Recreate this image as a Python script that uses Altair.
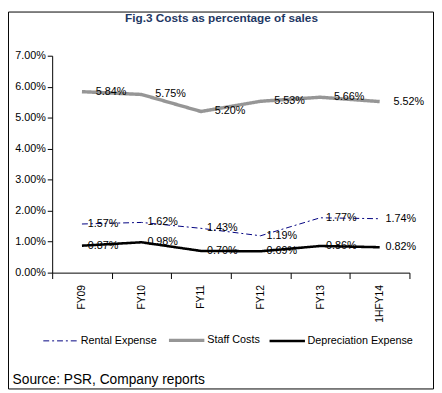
import altair as alt
import pandas as pd

categories = ["FY09", "FY10", "FY11", "FY12", "FY13", "1HFY14"]
series_names = ["Rental Expense", "Staff Costs", "Depreciation Expense"]
rental = [1.57, 1.62, 1.43, 1.19, 1.77, 1.74]
staff = [5.84, 5.75, 5.20, 5.53, 5.66, 5.52]
depreciation = [0.87, 0.98, 0.70, 0.69, 0.86, 0.82]
y_ticks = [0, 0.01, 0.02, 0.03, 0.04, 0.05, 0.06, 0.07]

rows = []
for name, vals in zip(series_names, [rental, staff, depreciation]):
    for c, v in zip(categories, vals):
        rows.append({"period": c, "series": name, "value": v / 100.0})
df = pd.DataFrame(rows)

W, H = 364, 221
FONT = "Arial"

x_enc = alt.X(
    "period:N",
    sort=categories,
    bandPosition=0.5,
    scale=alt.Scale(type="band", paddingInner=0, paddingOuter=0),
    axis=alt.Axis(
        title=None, tickBand="extent", tickSize=6, labelAngle=270,
        labelPadding=6, labelFont=FONT, labelFontSize=10.5, labelColor="black",
        domainColor="black", tickColor="black", grid=False,
    ),
)
y_enc = alt.Y(
    "value:Q",
    scale=alt.Scale(domain=[0, 0.07], nice=False),
    axis=alt.Axis(
        title=None, values=y_ticks, format=".2%", tickSize=5, labelPadding=2,
        labelFont=FONT, labelFontSize=11, labelColor="black",
        domainColor="black", tickColor="black", grid=False,
    ),
)

base = alt.Chart(df)

lines = base.mark_line(interpolate="linear").encode(
    x=x_enc,
    y=y_enc,
    color=alt.Color("series:N", title=None,
                    scale=alt.Scale(domain=series_names, range=["#000080", "#969696", "#000000"])),
    strokeDash=alt.StrokeDash("series:N", title=None,
                              scale=alt.Scale(domain=series_names, range=[[6, 3, 2, 3], [1, 0], [1, 0]])),
    strokeWidth=alt.StrokeWidth("series:N", title=None,
                                scale=alt.Scale(type="ordinal", domain=series_names, range=[1, 3.5, 2.6])),
)

labels_staff = base.transform_filter(alt.datum.series == "Staff Costs").mark_text(
    align="left", baseline="middle", dx=14, font=FONT, fontSize=11, color="black"
).encode(x=x_enc, y=y_enc, text=alt.Text("value:Q", format=".2%"))

labels_other = base.transform_filter(alt.datum.series != "Staff Costs").mark_text(
    align="left", baseline="middle", dx=6, font=FONT, fontSize=11, color="black"
).encode(x=x_enc, y=y_enc, text=alt.Text("value:Q", format=".2%"))

one = alt.Data(values=[{"t": "Fig.3 Costs as percentage of sales", "s": "Source: PSR, Company reports"}])

title = alt.Chart(one).mark_text(
    align="center", baseline="alphabetic", font=FONT, fontSize=12, fontWeight="bold", color="#1F3864"
).encode(x=alt.value(172.5), y=alt.value(-34.5), text="t:N")

source = alt.Chart(one).mark_text(
    align="left", baseline="alphabetic", font=FONT, fontSize=14, color="black"
).encode(x=alt.value(-40.3), y=alt.value(334.5), text="s:N")

border = alt.Chart(one).mark_rect(fill="transparent", stroke="black", strokeWidth=1).encode(
    x=alt.value(-44.5), x2=alt.value(388.5), y=alt.value(-44.5), y2=alt.value(339.5)
)

chart = alt.layer(border, lines, labels_staff, labels_other, title, source).properties(
    width=W, height=H,
    autosize=alt.AutoSizeParams(type="none"),
    padding={"left": 45, "top": 45, "right": 25, "bottom": 119},
    background="white",
).configure_view(strokeWidth=0).configure_legend(
    orient="none", legendX=-10, legendY=270, direction="horizontal",
    symbolType="stroke", symbolSize=1300, labelOffset=1, columnPadding=4,
    labelFont=FONT, labelFontSize=11, labelColor="black",
)

chart.save("out.html", embed_options={"renderer": "svg", "actions": False})
